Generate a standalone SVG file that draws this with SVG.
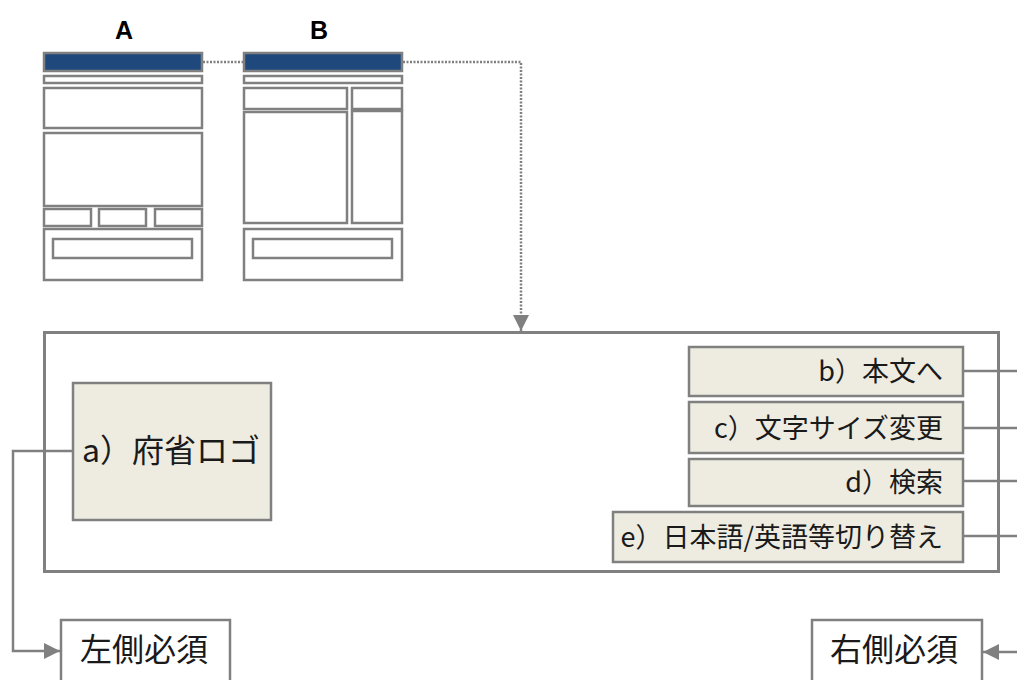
<svg xmlns="http://www.w3.org/2000/svg" width="1017" height="680" viewBox="0 0 1017 680">
<defs>
<style>
.wf{fill:#ffffff;stroke:#808080;stroke-width:2.5}
.bar{fill:#1F497D;stroke:#808080;stroke-width:2.5}
.item{fill:#EEECE1;stroke:#808080;stroke-width:2.5}
.main{fill:#ffffff;stroke:#808080;stroke-width:3}
.req{fill:#ffffff;stroke:#808080;stroke-width:2.5}
.conn{fill:none;stroke:#808080;stroke-width:2.5}
.dot{fill:none;stroke:#808080;stroke-width:2.5;stroke-dasharray:2 1.5}
.lbl{font-family:"Liberation Sans",Arial,sans-serif;font-weight:bold;font-size:25px;fill:#000;text-anchor:middle}
.jp{font-family:"Noto Sans CJK JP","Noto Sans",sans-serif;fill:#1a1a1a}
</style>
<marker id="arr" markerWidth="17" markerHeight="16" refX="16" refY="8" orient="auto" markerUnits="userSpaceOnUse">
<path d="M0,0 L16,8 L0,16 Z" fill="#808080"/>
</marker>
</defs>
<rect width="1017" height="680" fill="#ffffff"/>

<g id="wireframeA">
<text class="lbl" x="124" y="39">A</text>
<rect class="bar" x="44" y="53" width="158" height="18"/>
<rect class="wf" x="44" y="76" width="158" height="7"/>
<rect class="wf" x="44" y="88" width="158" height="40"/>
<rect class="wf" x="44" y="133" width="158" height="73"/>
<rect class="wf" x="44" y="209" width="47" height="17"/>
<rect class="wf" x="99" y="209" width="47" height="17"/>
<rect class="wf" x="155" y="209" width="47" height="17"/>
<rect class="wf" x="44" y="229" width="158" height="51"/>
<rect class="wf" x="53" y="239" width="139" height="19"/>
</g>

<g id="wireframeB">
<text class="lbl" x="319" y="39">B</text>
<rect class="bar" x="244" y="53" width="158" height="18"/>
<rect class="wf" x="244" y="76" width="158" height="7"/>
<rect class="wf" x="244" y="88" width="103" height="21"/>
<rect class="wf" x="352" y="88" width="50" height="21"/>
<rect class="wf" x="244" y="112" width="103" height="111"/>
<rect class="wf" x="352" y="111" width="50" height="112"/>
<rect class="wf" x="244" y="229" width="158" height="51"/>
<rect class="wf" x="253" y="239" width="139" height="19"/>
</g>

<g id="header">
<rect class="main" x="44.5" y="332.5" width="954" height="239"/>
</g>

<g id="connectors">
<path class="dot" d="M203,62 H243"/>
<path class="dot" d="M403,62 H521 V331" marker-end="url(#arr)"/>
<path class="conn" d="M73,451 H13 V651 H60" marker-end="url(#arr)"/>
<path class="conn" d="M963,371 H1017"/>
<path class="conn" d="M963,428 H1017"/>
<path class="conn" d="M963,481 H1017"/>
<path class="conn" d="M963,536 H1017"/>
<path class="conn" d="M1017,652 H983" marker-end="url(#arr)"/>
</g>

<g id="logo">
<rect class="item" x="73" y="383" width="198" height="137"/>
<text class="jp" x="82" y="462" font-size="32">a）府省ロゴ</text>
</g>

<g id="b-honbun">
<rect class="item" x="689" y="347" width="274" height="49"/>
<text class="jp" x="943" y="381" font-size="27" text-anchor="end">b）本文へ</text>
</g>

<g id="c-moji">
<rect class="item" x="689" y="402" width="274" height="51"/>
<text class="jp" x="943" y="438" font-size="27" text-anchor="end">c）文字サイズ変更</text>
</g>

<g id="d-kensaku">
<rect class="item" x="689" y="459" width="274" height="47"/>
<text class="jp" x="943" y="492" font-size="27" text-anchor="end">d）検索</text>
</g>

<g id="e-lang">
<rect class="item" x="613" y="512" width="350" height="50"/>
<text class="jp" x="943" y="547" font-size="27" text-anchor="end">e）日本語/英語等切り替え</text>
</g>

<g id="left-required">
<rect class="req" x="61" y="620" width="169" height="80"/>
<text class="jp" x="80" y="661" font-size="32">左側必須</text>
</g>

<g id="right-required">
<rect class="req" x="812" y="620" width="170" height="80"/>
<text class="jp" x="830" y="661" font-size="32">右側必須</text>
</g>
</svg>
